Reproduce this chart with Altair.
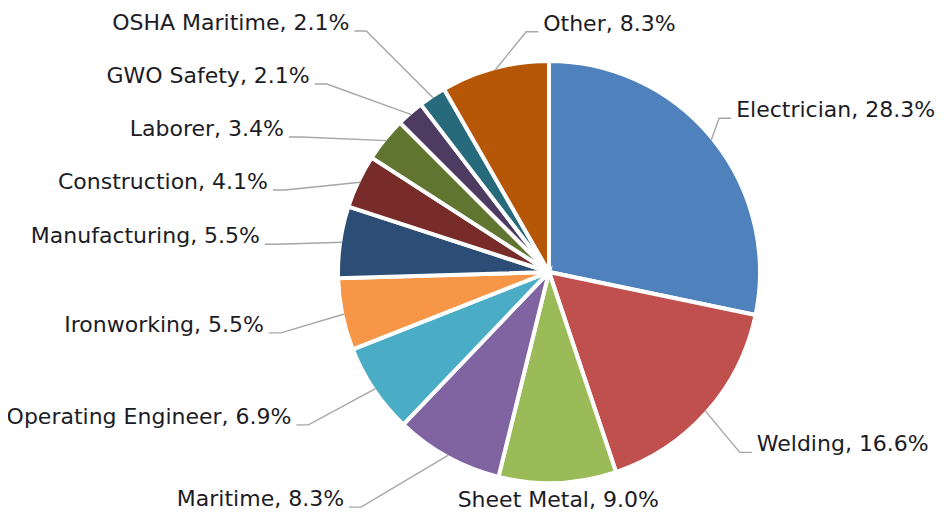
import math
import altair as alt
import pandas as pd

# ---- data ----
categories = ["Electrician", "Welding", "Sheet Metal", "Maritime", "Operating Engineer",
              "Ironworking", "Manufacturing", "Construction", "Laborer", "GWO Safety",
              "OSHA Maritime", "Other"]
shares = [28.3, 16.6, 9.0, 8.3, 6.9, 5.5, 5.5, 4.1, 3.4, 2.1, 2.1, 8.3]
colors = ["#4F81BD", "#C0504D", "#9BBB59", "#8064A2", "#4BACC6", "#F79646",
          "#2C4D75", "#772C2A", "#5F7530", "#4D3B62", "#276A7C", "#B65708"]

# ---- layout parameters ----
W, H = 930, 506
CX, CY = 541, 264          # pie centre inside plot area (px)
R = 209                    # pie radius
RL = 258                   # ideal radius of label centres
GAP = 53                   # min vertical spacing of labels
A_ELL, B_ELL = 285, 330    # ellipse guiding left label ends
FONT = 22

xs = alt.Scale(domain=[-CX, W - CX], nice=False, zero=False)
ys = alt.Scale(domain=[-(H - CY), CY], nice=False, zero=False)

total = sum(shares)
cum = 0.0
rows = []
for i, (c, s) in enumerate(zip(categories, shares)):
    a = 2 * math.pi * (cum + s / 2) / total
    cum += s
    sn, cs = math.sin(a), math.cos(a)
    if abs(sn) < 0.1:
        side = "center"
    elif sn > -0.3:
        side = "right"
    else:
        side = "left"
    rows.append(dict(idx=i, cat=c, share=s, sn=sn, cs=cs, sx=R * sn, sy=R * cs,
                     side=side, yc=RL * cs, label=f"{c}, {s:.1f}%"))


def resolve(items):
    items = sorted(items, key=lambda r: -r["yc"])
    clusters = [[r] for r in items]

    def place(cl):
        m = sum(r["yc"] for r in cl) / len(cl)
        return [m + (len(cl) - 1) / 2 * GAP - k * GAP for k in range(len(cl))]

    changed = True
    while changed:
        changed = False
        for j in range(len(clusters) - 1):
            pa, pb = place(clusters[j]), place(clusters[j + 1])
            if pa[-1] - pb[0] < GAP:
                clusters[j] = clusters[j] + clusters[j + 1]
                del clusters[j + 1]
                changed = True
                break
    for cl in clusters:
        for r, p in zip(cl, place(cl)):
            r["ty"] = p


resolve([r for r in rows if r["side"] == "left"])
resolve([r for r in rows if r["side"] == "right"])

line_rows = []
for r in rows:
    if r["side"] == "center":
        rc = R + 18
        r["tx"] = rc * r["sn"]
        r["tb"] = rc * r["cs"] - 8
        continue
    yl = r["ty"] - 9
    r["tb"] = r["ty"] - 8
    if r["side"] == "left":
        ell = -A_ELL * math.sqrt(max(0.0, 1 - (yl / B_ELL) ** 2))
        xe = min(ell, r["sx"] - 40)
        elbow = xe + 12
        r["tx"] = xe - 5
    else:
        xe = max(r["sx"] + 20 + 40 * max(0.0, -r["cs"]), 0.2 * r["sx"])
        elbow = xe - 12
        r["tx"] = xe + 5
    for k, (px, py) in enumerate([(r["sx"], r["sy"]), (elbow, yl), (xe, yl)]):
        line_rows.append(dict(cat=r["cat"], ord=k, px=px, py=py))

pie_df = pd.DataFrame([dict(idx=r["idx"], cat=r["cat"], share=r["share"], cx=0, cy=0) for r in rows])
lab_df = pd.DataFrame(rows)
line_df = pd.DataFrame(line_rows)

pie = alt.Chart(pie_df).mark_arc(outerRadius=R + 2, stroke="white", strokeWidth=4).encode(
    theta=alt.Theta("share:Q", stack=True),
    order=alt.Order("idx:Q"),
    color=alt.Color("cat:N", scale=alt.Scale(domain=categories, range=colors), legend=None),
    x=alt.X("cx:Q", scale=xs, axis=None),
    y=alt.Y("cy:Q", scale=ys, axis=None),
)

leaders = alt.Chart(line_df).mark_line(color="#a6a6a6", strokeWidth=1.4).encode(
    x=alt.X("px:Q", scale=xs, axis=None),
    y=alt.Y("py:Q", scale=ys, axis=None),
    detail="cat:N",
    order="ord:Q",
)


def text_layer(side, align):
    return alt.Chart(lab_df).transform_filter(alt.datum.side == side).mark_text(
        align=align, baseline="alphabetic", font="DejaVu Sans", fontSize=FONT, color="#1c1c26"
    ).encode(
        x=alt.X("tx:Q", scale=xs, axis=None),
        y=alt.Y("tb:Q", scale=ys, axis=None),
        text="label:N",
    )


chart = alt.layer(
    pie, leaders,
    text_layer("left", "right"), text_layer("right", "left"), text_layer("center", "center"),
).properties(width=W, height=H, padding=0, autosize="none", background="white"
).configure_view(stroke=None)

chart.save("out.html", embed_options={"renderer": "svg", "actions": False})
